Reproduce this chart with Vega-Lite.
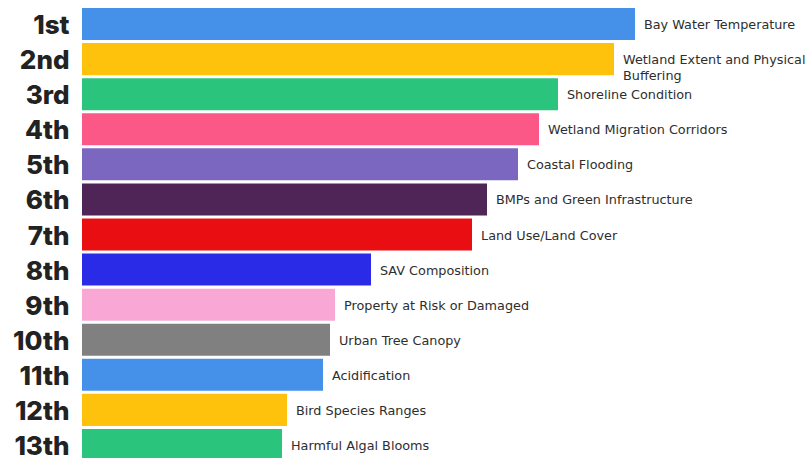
{
  "$schema": "https://vega.github.io/schema/vega-lite/v6.json",
  "autosize": "none",
  "padding": {"left": 82, "top": 6, "right": 0, "bottom": 0},
  "width": 728,
  "height": 457,
  "background": "white",
  "config": {"view": {"stroke": null}},
  "data": {
    "values": [
      {"rank": "1st", "indicator": "Bay Water Temperature", "score": 553},
      {"rank": "2nd", "indicator": "Wetland Extent and Physical\nBuffering", "score": 532},
      {"rank": "3rd", "indicator": "Shoreline Condition", "score": 476},
      {"rank": "4th", "indicator": "Wetland Migration Corridors", "score": 457},
      {"rank": "5th", "indicator": "Coastal Flooding", "score": 436},
      {"rank": "6th", "indicator": "BMPs and Green Infrastructure", "score": 405},
      {"rank": "7th", "indicator": "Land Use/Land Cover", "score": 390},
      {"rank": "8th", "indicator": "SAV Composition", "score": 289},
      {"rank": "9th", "indicator": "Property at Risk or Damaged", "score": 253},
      {"rank": "10th", "indicator": "Urban Tree Canopy", "score": 248},
      {"rank": "11th", "indicator": "Acidification", "score": 241},
      {"rank": "12th", "indicator": "Bird Species Ranges", "score": 205},
      {"rank": "13th", "indicator": "Harmful Algal Blooms", "score": 200}
    ]
  },
  "encoding": {
    "y": {
      "field": "rank",
      "type": "nominal",
      "sort": null,
      "scale": {"paddingInner": 0.086, "paddingOuter": 0.057},
      "axis": {
        "title": null,
        "domain": false,
        "ticks": false,
        "labelPadding": 13,
        "labelOffset": 2,
        "labelFont": "Inter",
        "labelFontSize": 26,
        "labelFontWeight": 800,
        "labelColor": "#222222"
      }
    },
    "x": {
      "field": "score",
      "type": "quantitative",
      "scale": {"domain": [0, 728], "nice": false},
      "axis": null
    }
  },
  "layer": [
    {
      "mark": {"type": "bar"},
      "encoding": {
        "color": {
          "field": "indicator",
          "type": "nominal",
          "legend": null,
          "scale": {
            "domain": [
              "Bay Water Temperature",
              "Wetland Extent and Physical\nBuffering",
              "Shoreline Condition",
              "Wetland Migration Corridors",
              "Coastal Flooding",
              "BMPs and Green Infrastructure",
              "Land Use/Land Cover",
              "SAV Composition",
              "Property at Risk or Damaged",
              "Urban Tree Canopy",
              "Acidification",
              "Bird Species Ranges",
              "Harmful Algal Blooms"
            ],
            "range": [
              "#4591EA", "#FEC10C", "#2BC47C", "#FB5787", "#7B67C0", "#4F2457", "#E80E12",
              "#2A2BE6", "#F9A8D6", "#808080", "#4591EA", "#FEC10C", "#2BC47C"
            ]
          }
        }
      }
    },
    {
      "mark": {
        "type": "text",
        "align": "left",
        "baseline": "middle",
        "dx": 9,
        "dy": 1,
        "font": "DejaVu Sans",
        "fontSize": 12.8,
        "color": "#2e2e2e",
        "lineBreak": "\n",
        "lineHeight": 16
      },
      "encoding": {
        "text": {"field": "indicator"}
      }
    }
  ]
}
